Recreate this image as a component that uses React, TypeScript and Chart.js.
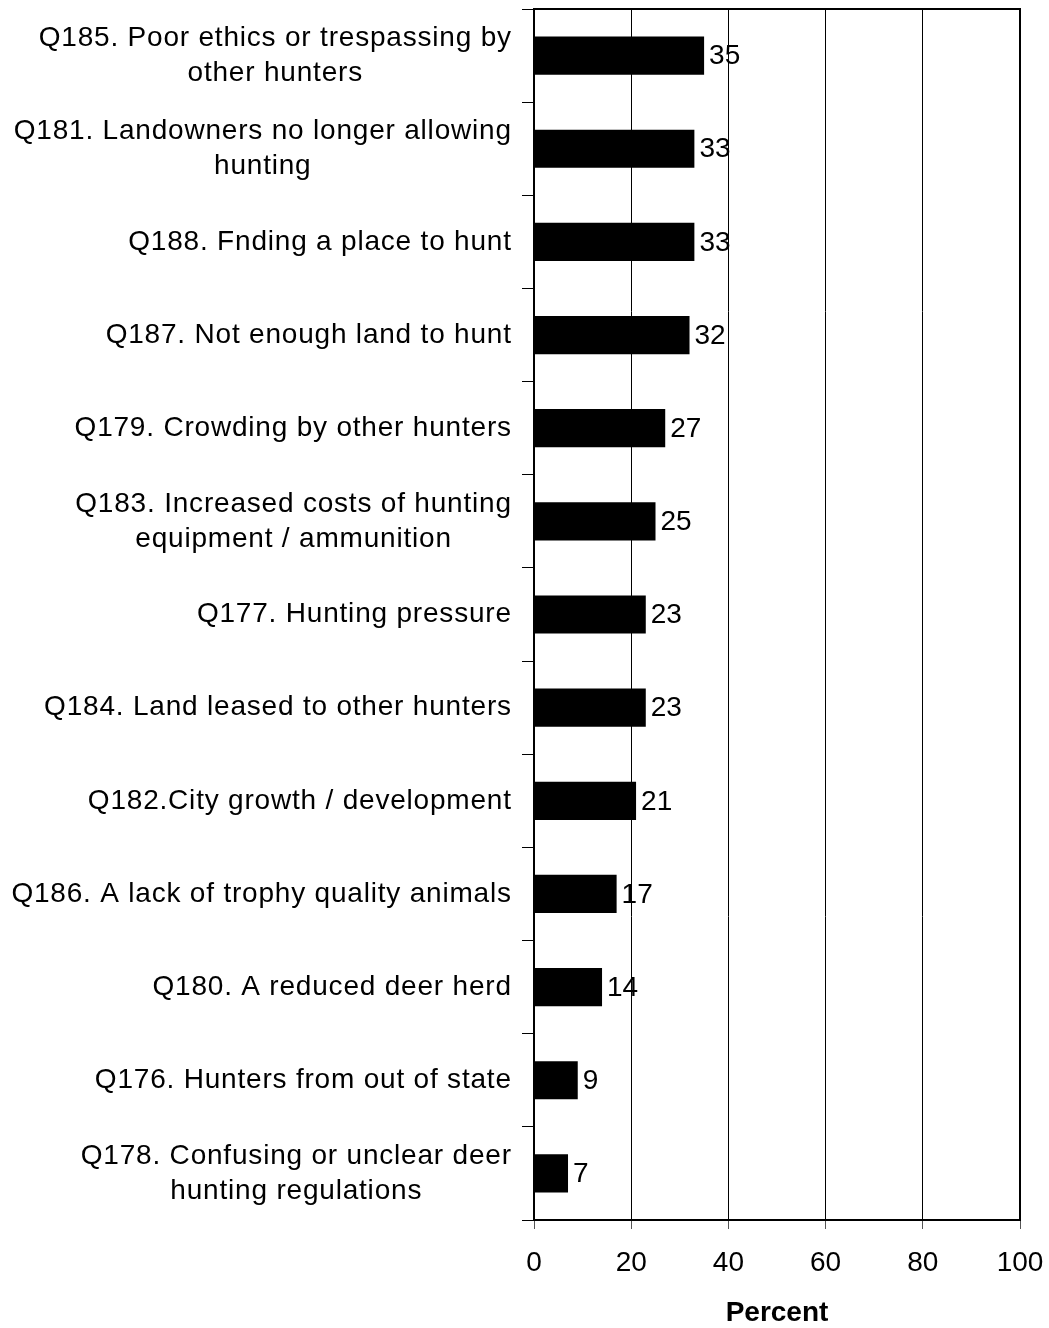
import React, { useEffect, useRef } from "react";
import { Chart, registerables } from "chart.js";

Chart.register(...registerables);

const categories: string[][] = [
  ["Q185. Poor ethics or trespassing by", "other hunters"],
  ["Q181. Landowners no longer allowing", "hunting"],
  ["Q188. Fnding a place to hunt"],
  ["Q187. Not enough land to hunt"],
  ["Q179. Crowding by other hunters"],
  ["Q183. Increased costs of hunting", "equipment / ammunition"],
  ["Q177. Hunting pressure"],
  ["Q184. Land leased to other hunters"],
  ["Q182.City growth / development"],
  ["Q186. A lack of trophy quality animals"],
  ["Q180. A reduced deer herd"],
  ["Q176. Hunters from out of state"],
  ["Q178. Confusing or unclear deer", "hunting regulations"],
];

const percentValues: number[] = [35, 33, 33, 32, 27, 25, 23, 23, 21, 17, 14, 9, 7];

const xTickValues: number[] = [0, 20, 40, 60, 80, 100];

const FONT = '"Liberation Sans", Arial, Helvetica, sans-serif';

export default function App() {
  const canvasRef = useRef<HTMLCanvasElement | null>(null);

  useEffect(() => {
    const canvas = canvasRef.current;
    if (!canvas) return;

    const boxPlugin = {
      id: "boxPlugin",
      afterDraw(chart: any) {
        const { ctx, chartArea } = chart;
        ctx.save();
        ctx.strokeStyle = "#000";
        ctx.lineWidth = 2;
        ctx.strokeRect(chartArea.left, chartArea.top, chartArea.right - chartArea.left, chartArea.bottom - chartArea.top);
        ctx.restore();
      },
    };

    const labelPlugin = {
      id: "labelPlugin",
      afterDraw(chart: any) {
        const { ctx } = chart;
        const yScale = chart.scales.y;
        const meta = chart.getDatasetMeta(0);
        ctx.save();
        ctx.fillStyle = "#000";
        ctx.textBaseline = "middle";
        // category labels
        ctx.font = `28px ${FONT}`;
        const ls = 0.8;
        (ctx as any).letterSpacing = `${ls}px`;
        const rightEdge = chart.chartArea.left - 23;
        const lineH = 35;
        categories.forEach((lines, i) => {
          const cy = yScale.getPixelForValue(i);
          ctx.textAlign = "left";
          const widths = lines.map((l) => ctx.measureText(l).width - ls);
          const maxW = Math.max(...widths);
          const cx = rightEdge - maxW / 2;
          const startY = cy - ((lines.length - 1) * lineH) / 2;
          lines.forEach((l, j) => {
            ctx.fillText(l, cx - widths[j] / 2, startY + j * lineH);
          });
        });
        (ctx as any).letterSpacing = "0px";
        // value labels
        ctx.font = `28px ${FONT}`;
        ctx.textAlign = "left";
        meta.data.forEach((bar: any, i: number) => {
          ctx.fillText(String(percentValues[i]), bar.x + 5, bar.y + 1);
        });
        ctx.restore();
      },
    };

    const chart = new Chart(canvas, {
      type: "bar",
      data: {
        labels: categories.map((c) => c.join(" ")),
        datasets: [
          {
            data: percentValues,
            backgroundColor: "#000",
            borderWidth: 0,
            categoryPercentage: 1,
            barPercentage: 0.41,
          },
        ],
      },
      options: {
        indexAxis: "y",
        animation: false,
        responsive: false,
        maintainAspectRatio: false,
        layout: { padding: { top: 9, right: 29, left: 0, bottom: 0 } },
        plugins: {
          legend: { display: false },
          tooltip: { enabled: false },
          title: { display: false },
        },
        scales: {
          x: {
            min: 0,
            max: 100,
            afterBuildTicks(scale: any) {
              scale.ticks = xTickValues.map((v) => ({ value: v }));
            },
            afterFit(scale: any) {
              scale.height = 108;
              scale.paddingLeft = 0;
              scale.paddingRight = 0;
            },
            grid: {
              color: "#000",
              lineWidth: 1,
              drawTicks: true,
              tickLength: 9,
              tickColor: "#555",
            },
            border: { display: true, color: "#000", width: 2 },
            ticks: {
              color: "#000",
              font: { family: FONT, size: 28 },
              padding: 17,
              maxRotation: 0,
            },
            title: {
              display: true,
              text: "Percent",
              color: "#000",
              font: { family: FONT, size: 28, weight: "bold" },
              padding: { top: 0, bottom: -2 },
            },
          },
          y: {
            afterFit(scale: any) {
              scale.width = 534;
            },
            grid: {
              drawOnChartArea: false,
              drawTicks: true,
              tickLength: 12,
              color: "#000",
              offset: true,
            },
            border: { display: true, color: "#000", width: 2 },
            ticks: { display: false },
          },
        },
      },
      plugins: [boxPlugin, labelPlugin],
    });

    return () => chart.destroy();
  }, []);

  return (
    <div style={{ position: "absolute", left: 0, top: 0, width: 1049, height: 1328, background: "#fff" }}>
      <canvas ref={canvasRef} width={1049} height={1328} style={{ display: "block" }} />
    </div>
  );
}
